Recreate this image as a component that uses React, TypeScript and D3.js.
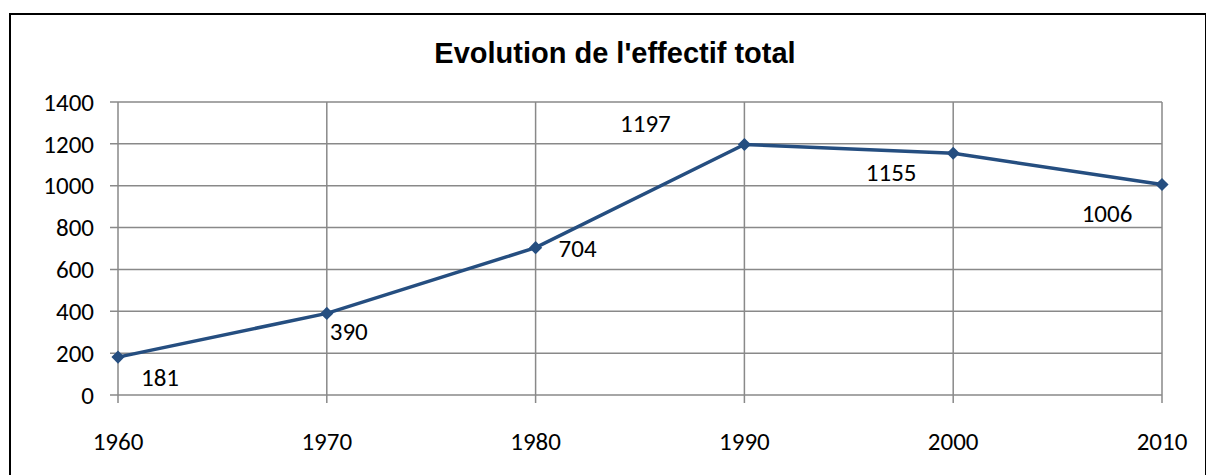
import { useEffect, useRef } from "react"
import * as d3 from "d3"

const years = [1960, 1970, 1980, 1990, 2000, 2010]
const effectif = [181, 390, 704, 1197, 1155, 1006]
const yTicks = [0, 200, 400, 600, 800, 1000, 1200, 1400]
// decalage des etiquettes de donnees (comme dans Excel)
const labelOffsets = [
  [42, 20],
  [22, 18],
  [42, 1],
  [-99, -21],
  [-62, 19],
  [-55, 29],
]

const W = 1206
const H = 475

export default function App() {
  const svgRef = useRef<SVGSVGElement>(null)

  useEffect(() => {
    if (!svgRef.current) return
    const svg = d3.select(svgRef.current)
    svg.selectAll("*").remove()

    const font = "Carlito, Calibri, 'Open Sans', sans-serif"
    const x = d3.scaleLinear().domain([1960, 2010]).range([118, 1162])
    const y = d3.scaleLinear().domain([0, 1400]).range([395, 102])

    svg.append("rect").attr("width", W).attr("height", H).attr("fill", "#fff")

    // cadre
    svg
      .append("rect")
      .attr("x", 10)
      .attr("y", 14)
      .attr("width", W - 10)
      .attr("height", H)
      .attr("fill", "none")
      .attr("stroke", "#000")
      .attr("stroke-width", 2)

    svg
      .append("text")
      .attr("x", 615)
      .attr("y", 63)
      .attr("text-anchor", "middle")
      .style("font-family", "'Liberation Sans', Arial, sans-serif")
      .style("font-weight", "bold")
      .style("font-size", "29px")
      .text("Evolution de l'effectif total")

    const grid = svg.append("g").attr("stroke", "#898989").attr("stroke-width", 1.5)

    yTicks.forEach((t) => {
      grid
        .append("line")
        .attr("x1", 110)
        .attr("x2", 1162)
        .attr("y1", y(t))
        .attr("y2", y(t))
    })
    years.forEach((yr) => {
      grid
        .append("line")
        .attr("x1", x(yr))
        .attr("x2", x(yr))
        .attr("y1", y(1400))
        .attr("y2", 403)
    })

    svg
      .append("g")
      .selectAll("text")
      .data(yTicks)
      .enter()
      .append("text")
      .attr("x", 94)
      .attr("y", (d) => y(d))
      .attr("dy", "0.35em")
      .attr("text-anchor", "end")
      .style("font-family", font)
      .style("font-size", "25px")
      .text((d) => d)

    svg
      .append("g")
      .selectAll("text")
      .data(years)
      .enter()
      .append("text")
      .attr("x", (d) => x(d))
      .attr("y", 441)
      .attr("dy", "0.35em")
      .attr("text-anchor", "middle")
      .style("font-family", font)
      .style("font-size", "25px")
      .text((d) => d)

    const pts = years.map((yr, i) => ({ yr, v: effectif[i] }))

    const line = d3
      .line<{ yr: number; v: number }>()
      .x((d) => x(d.yr))
      .y((d) => y(d.v))

    svg
      .append("path")
      .datum(pts)
      .attr("d", line)
      .attr("fill", "none")
      .attr("stroke", "#254E80")
      .attr("stroke-width", 3.5)

    svg
      .selectAll(".pt")
      .data(pts)
      .enter()
      .append("path")
      .attr("class", "pt")
      .attr("d", d3.symbol(d3.symbolDiamond2, 110)())
      .attr("transform", (d) => `translate(${x(d.yr)},${y(d.v)})`)
      .attr("fill", "#254E80")

    svg
      .selectAll(".lbl")
      .data(pts)
      .enter()
      .append("text")
      .attr("class", "lbl")
      .attr("x", (d, i) => x(d.yr) + labelOffsets[i][0])
      .attr("y", (d, i) => y(d.v) + labelOffsets[i][1])
      .attr("dy", "0.35em")
      .attr("text-anchor", "middle")
      .style("font-family", font)
      .style("font-size", "25px")
      .text((d) => d.v)
  }, [])

  return <svg ref={svgRef} width={W} height={H} style={{ display: "block", position: "absolute", left: 0, top: 0 }} />
}
